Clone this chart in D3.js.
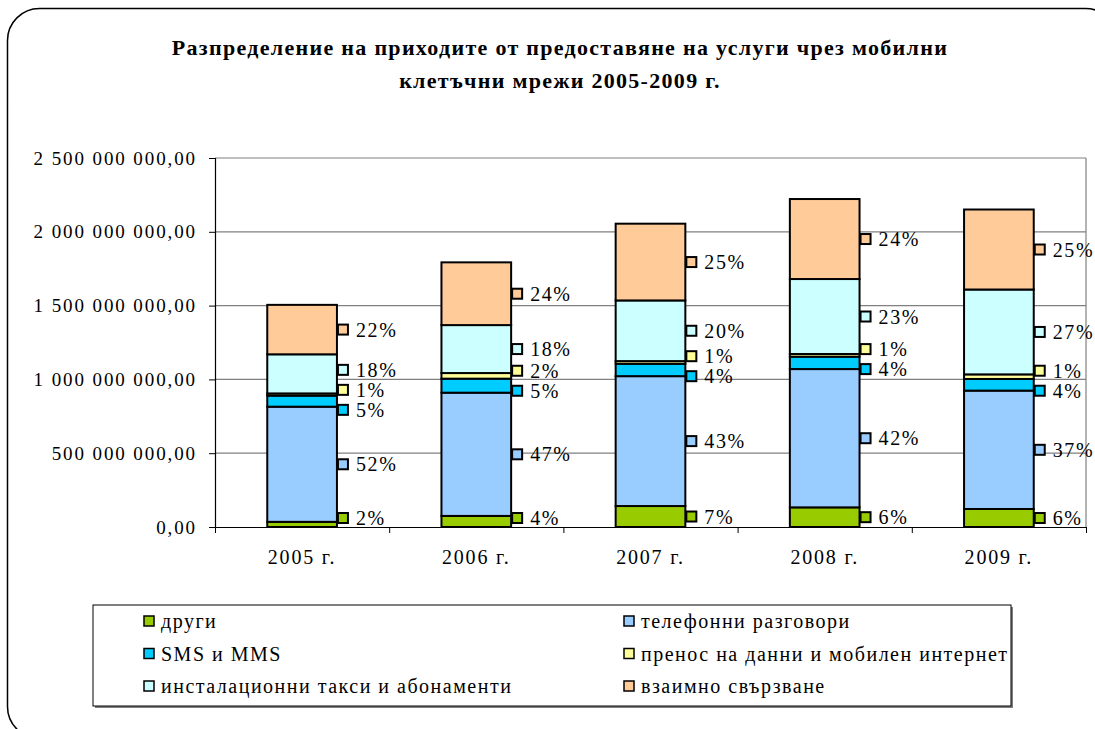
<!DOCTYPE html>
<html>
<head>
<meta charset="utf-8">
<script src="https://cdn.jsdelivr.net/npm/d3@7"></script>
<style>
  html, body { margin: 0; padding: 0; background: #fff; }
  svg text { font-family: "Liberation Serif", "Times New Roman", serif; fill: #000; }
</style>
</head>
<body>
<div id="chart"></div>
<script>
// values in millions (BGN)
const categories = ['2005 г.', '2006 г.', '2007 г.', '2008 г.', '2009 г.'];
const seriesNames = [
  'други',
  'телефонни разговори',
  'SMS и MMS',
  'пренос на данни и мобилен интернет',
  'инсталационни такси и абонаменти',
  'взаимно свързване'
];
const drugi = [35, 75, 142, 133, 122];
const telefonni = [780, 835, 880, 937, 802];
const smsMms = [75, 95, 84, 84, 79];
const prenos = [15, 38, 18, 18, 31];
const instalacionni = [265, 325, 411, 508, 575];
const vzaimno = [335, 425, 520, 542, 542];
const yTicks = [0, 500, 1000, 1500, 2000, 2500];

const colors = ['#99cc00', '#99ccff', '#00ccff', '#ffff99', '#ccffff', '#ffcc99'];
const titleLines = [
  'Разпределение на приходите от предоставяне на услуги чрез мобилни',
  'клетъчни мрежи 2005-2009 г.'
];

const W = 1095, H = 729;
const margin = { top: 158, right: 9, bottom: 202, left: 215 };
const plotRight = W - margin.right;
const plotBottom = H - margin.bottom;
const serif = '"Liberation Serif", "Times New Roman", serif';

const allSeries = [drugi, telefonni, smsMms, prenos, instalacionni, vzaimno];
const keys = seriesNames;
const table = categories.map((c, i) => {
  const row = { category: c };
  keys.forEach((k, j) => { row[k] = allSeries[j][i]; });
  return row;
});
const stacked = d3.stack().keys(keys)(table);
const totals = categories.map((c, i) => d3.sum(allSeries, s => s[i]));

const svg = d3.select('#chart').append('svg')
  .attr('width', W)
  .attr('height', H);

// outer rounded frame
svg.append('rect')
  .attr('x', 7.5).attr('y', 8.5)
  .attr('width', 1110).attr('height', 730)
  .attr('rx', 32).attr('ry', 32)
  .attr('fill', '#fff')
  .attr('stroke', '#000')
  .attr('stroke-width', 1.5);

// title
svg.append('g').attr('class', 'title')
  .selectAll('text')
  .data(titleLines)
  .enter().append('text')
  .attr('x', 560)
  .attr('y', (d, i) => 47 + i * 33)
  .attr('dy', '0.35em')
  .attr('text-anchor', 'middle')
  .style('font-family', serif)
  .style('font-size', '22px')
  .style('font-weight', 'bold')
  .style('letter-spacing', '1.3px')
  .text(d => d);

const x = d3.scaleBand()
  .domain(categories)
  .range([margin.left, plotRight])
  .paddingInner(0.6)
  .paddingOuter(0.3);

const y = d3.scaleLinear()
  .domain([0, 2500])
  .range([plotBottom, margin.top]);

const locale = d3.formatLocale({ decimal: ',', thousands: ' ', grouping: [3], currency: ['', ''] });
const fmt = locale.format(',.2f');

// gridlines
svg.append('g').attr('class', 'grid')
  .selectAll('line')
  .data(yTicks.filter(d => d > 0))
  .enter().append('line')
  .attr('x1', margin.left).attr('x2', plotRight)
  .attr('y1', d => y(d)).attr('y2', d => y(d))
  .attr('stroke', '#808080')
  .attr('stroke-width', 1.2);

svg.append('line')
  .attr('x1', plotRight).attr('x2', plotRight)
  .attr('y1', margin.top).attr('y2', plotBottom)
  .attr('stroke', '#808080')
  .attr('stroke-width', 1.2);

// y axis
const yAxis = d3.axisLeft(y)
  .tickValues(yTicks)
  .tickSize(6)
  .tickPadding(12)
  .tickFormat(d => fmt(d * 1e6));

const gy = svg.append('g')
  .attr('class', 'y axis')
  .attr('transform', 'translate(' + margin.left + ',0)')
  .call(yAxis);
gy.select('.domain').attr('stroke', '#000').attr('stroke-width', 1.2);
gy.selectAll('.tick line').attr('stroke', '#000');
gy.selectAll('.tick text')
  .style('font-family', serif)
  .style('font-size', '19px')
  .style('letter-spacing', '1.9px');

// x axis: boundary ticks and labels
const xEdges = d3.scaleLinear().domain([0, categories.length]).range([margin.left, plotRight]);
const gxEdges = svg.append('g')
  .attr('class', 'x edges')
  .attr('transform', 'translate(0,' + plotBottom + ')')
  .call(d3.axisBottom(xEdges).ticks(categories.length).tickSize(6).tickSizeOuter(0).tickFormat(''));
gxEdges.select('.domain').attr('stroke', '#000').attr('stroke-width', 1.2);
gxEdges.selectAll('.tick line').attr('stroke', '#000');

const gx = svg.append('g')
  .attr('class', 'x axis')
  .attr('transform', 'translate(0,' + plotBottom + ')')
  .call(d3.axisBottom(x).tickSize(0).tickPadding(23));
gx.select('.domain').remove();
gx.selectAll('.tick text')
  .style('font-family', serif)
  .style('font-size', '20px')
  .style('letter-spacing', '1.8px');

// bars
const layers = svg.append('g').attr('class', 'bars')
  .selectAll('g')
  .data(stacked)
  .enter().append('g')
  .attr('fill', (d, i) => colors[i]);

layers.selectAll('rect')
  .data(d => d)
  .enter().append('rect')
  .attr('x', d => x(d.data.category))
  .attr('y', d => y(d[1]))
  .attr('width', x.bandwidth())
  .attr('height', d => y(d[0]) - y(d[1]))
  .attr('stroke', '#000')
  .attr('stroke-width', 2);

// data labels: share of the year's total, placed right of the bar
const gap = 20;
const labels = [];
categories.forEach((c, i) => {
  const col = stacked.map((layer, j) => ({
    series: j,
    y: (y(layer[i][0]) + y(layer[i][1])) / 2,
    pct: Math.round(allSeries[j][i] / totals[i] * 100),
    category: c
  }));
  col.sort((a, b) => a.y - b.y);
  for (let it = 0; it < 80; it++) {
    for (let k = 0; k < col.length - 1; k++) {
      const diff = col[k + 1].y - col[k].y;
      if (diff < gap) {
        const delta = (gap - diff) / 2;
        col[k].y -= delta;
        col[k + 1].y += delta;
      }
    }
    col.forEach(l => { l.y = Math.min(l.y, plotBottom - 9); });
  }
  col.forEach(l => labels.push(l));
});

const gl = svg.append('g').attr('class', 'labels')
  .selectAll('g')
  .data(labels)
  .enter().append('g')
  .attr('transform', d => 'translate(' + (x(d.category) + x.bandwidth()) + ',' + d.y + ')');

gl.append('rect')
  .attr('x', 1).attr('y', -5)
  .attr('width', 10).attr('height', 10)
  .attr('fill', d => colors[d.series])
  .attr('stroke', '#000')
  .attr('stroke-width', 2);

gl.append('text')
  .attr('x', 19)
  .attr('dy', '0.35em')
  .style('font-family', serif)
  .style('font-size', '20px')
  .style('letter-spacing', '1.6px')
  .text(d => d.pct + '%');

// legend
const legend = svg.append('g').attr('class', 'legend')
  .attr('transform', 'translate(93,605)');

legend.append('rect')
  .attr('x', 2).attr('y', 2)
  .attr('width', 918).attr('height', 101)
  .attr('fill', '#808080');
legend.append('rect')
  .attr('x', 0).attr('y', 0)
  .attr('width', 918).attr('height', 101)
  .attr('fill', '#fff')
  .attr('stroke', '#000')
  .attr('stroke-width', 1);

const items = legend.selectAll('g.item')
  .data(seriesNames)
  .enter().append('g')
  .attr('class', 'item')
  .attr('transform', (d, i) => 'translate(' + (51 + (i % 2) * 480) + ',' + (16 + Math.floor(i / 2) * 32.5) + ')');

items.append('rect')
  .attr('x', 0).attr('y', -5)
  .attr('width', 10).attr('height', 10)
  .attr('fill', (d, i) => colors[i])
  .attr('stroke', '#000')
  .attr('stroke-width', 1.5);

items.append('text')
  .attr('x', 17)
  .attr('dy', '0.35em')
  .style('font-family', serif)
  .style('font-size', '20px')
  .style('letter-spacing', '1.5px')
  .text(d => d);
</script>
</body>
</html>
